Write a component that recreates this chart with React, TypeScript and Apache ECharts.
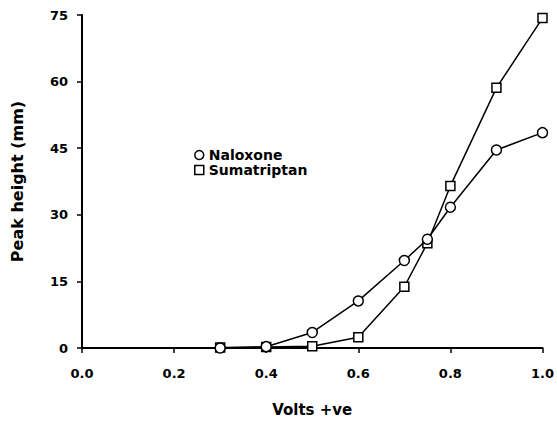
import React, { useEffect, useRef } from "react";
import * as echarts from "echarts";

const volts = [0.3, 0.4, 0.5, 0.6, 0.7, 0.75, 0.8, 0.9, 1.0];
const naloxone = [0, 0.3, 3.5, 10.6, 19.7, 24.5, 31.7, 44.6, 48.5];
const sumatriptan = [0.1, 0.2, 0.4, 2.4, 13.8, 23.6, 36.5, 58.6, 74.3];

const FONT = "'DejaVu Sans', Arial, sans-serif";

export default function App() {
  const ref = useRef<HTMLDivElement>(null);
  useEffect(() => {
    const chart = echarts.init(ref.current!, null, { renderer: "svg" });
    const mk = (arr: number[]) => volts.map((v, i) => [v, arr[i]]);
    chart.setOption({
      animation: false,
      backgroundColor: "#fff",
      grid: { left: 82, right: 11, top: 15, bottom: 64, containLabel: false },
      legend: {
        orient: "vertical",
        left: 194,
        top: 148,
        itemWidth: 9,
        itemHeight: 9,
        itemGap: 1,
        padding: 0,
        textStyle: {
          fontFamily: FONT,
          fontWeight: "bold",
          fontSize: 14,
          lineHeight: 14,
          color: "#000",
        },
        data: [
          { name: "Naloxone", icon: "circle" },
          { name: "Sumatriptan", icon: "rect" },
        ],
        itemStyle: { color: "#fff", borderColor: "#000", borderWidth: 1.5 },
      },
      xAxis: {
        type: "value",
        min: 0,
        max: 1,
        interval: 0.2,
        name: "Volts +ve",
        nameLocation: "middle",
        nameGap: 54,
        nameTextStyle: { fontFamily: FONT, fontWeight: "bold", fontSize: 15, color: "#000" },
        axisLine: { lineStyle: { color: "#000", width: 2 } },
        axisTick: { show: true, length: 5, lineStyle: { color: "#000", width: 1.5 } },
        axisLabel: {
          formatter: (v: number) => v.toFixed(1),
          fontFamily: FONT,
          fontWeight: "bold",
          fontSize: 13,
          color: "#000",
          margin: 19,
        },
        splitLine: { show: false },
      },
      yAxis: {
        type: "value",
        min: 0,
        max: 75,
        interval: 15,
        name: "Peak height (mm)",
        nameLocation: "middle",
        nameGap: 57,
        nameTextStyle: { fontFamily: FONT, fontWeight: "bold", fontSize: 16, color: "#000" },
        axisLine: { lineStyle: { color: "#000", width: 2 } },
        axisTick: { show: true, length: 5, lineStyle: { color: "#000", width: 1.5 } },
        axisLabel: {
          fontFamily: FONT,
          fontWeight: "bold",
          fontSize: 13,
          color: "#000",
          margin: 14,
        },
        splitLine: { show: false },
      },
      series: [
        {
          name: "Sumatriptan",
          type: "line",
          data: mk(sumatriptan),
          symbol: "rect",
          symbolSize: 9,
          lineStyle: { color: "#000", width: 1.5 },
          itemStyle: { color: "#fff", borderColor: "#000", borderWidth: 1.5 },
          z: 2,
        },
        {
          name: "Naloxone",
          type: "line",
          data: mk(naloxone),
          symbol: "circle",
          symbolSize: 10,
          lineStyle: { color: "#000", width: 1.5 },
          itemStyle: { color: "#fff", borderColor: "#000", borderWidth: 1.5 },
          z: 3,
        },
      ],
    });
    return () => chart.dispose();
  }, []);
  return <div ref={ref} style={{ width: 557, height: 422, position: "absolute", left: 0, top: 0 }} />;
}
